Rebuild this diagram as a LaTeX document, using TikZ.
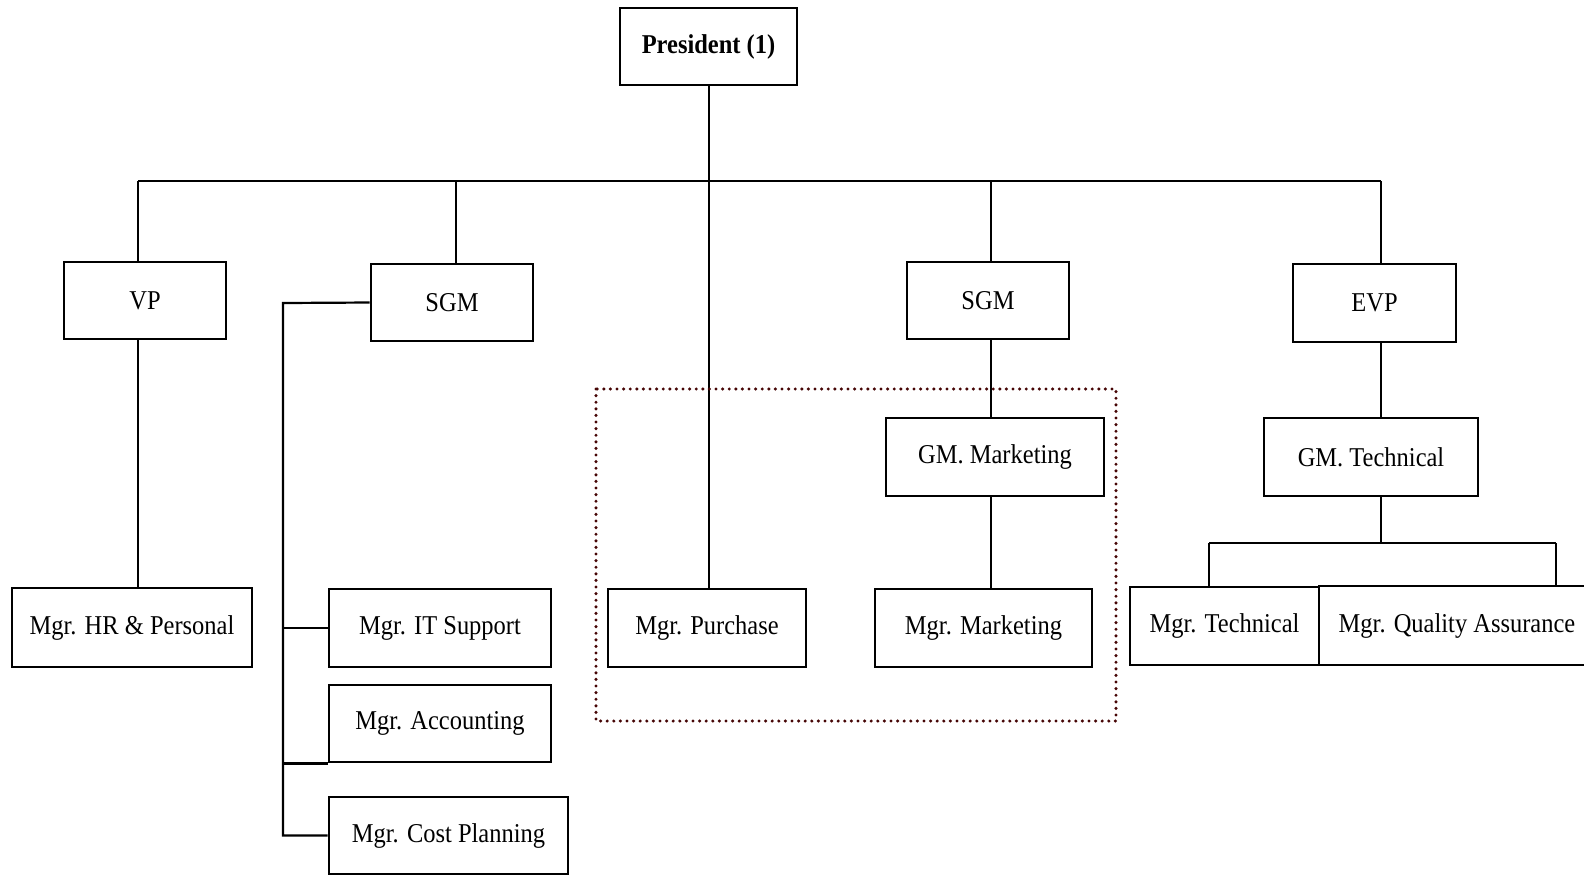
\documentclass[tikz,border=0pt]{standalone}
\usepackage{fontspec}
\setmainfont{Liberation Serif}[FakeStretch=0.9]
\definecolor{dotred}{RGB}{70,5,5}
\begin{document}
\begin{tikzpicture}[x=0.5pt,y=-0.5pt,
  box/.style={draw, line width=1.4pt, inner sep=0pt, font=\fontsize{13.6}{15}\selectfont},
  link/.style={line width=1.1pt},
  dotbox/.style={draw=dotred, line width=1.7pt, line cap=round, dash pattern=on 0pt off 3.3pt}]
\clip (0,0) rectangle (1584,875);

% top level
\node[box, minimum width=88.5pt, minimum height=38.5pt, font=\fontsize{13.6}{15}\selectfont\bfseries] (pres) at (708.5,46.5) {President (1)};

% second level
\node[box, minimum width=81pt, minimum height=38.5pt] (vp) at (145,300.5) {VP};
\node[box, minimum width=81pt, minimum height=38.5pt] (sgmA) at (452,302.5) {SGM};
\node[box, minimum width=81pt, minimum height=38.5pt] (sgmB) at (988,300.5) {SGM};
\node[box, minimum width=81.5pt, minimum height=39pt] (evp) at (1374.5,303) {EVP};

% general managers
\node[box, minimum width=109pt, minimum height=39pt] (gmm) at (995,457) {GM. Marketing};
\node[box, minimum width=107pt, minimum height=39pt] (gmt) at (1371,457) {GM. Technical};

% managers
\node[box, minimum width=120pt, minimum height=39.5pt] (hr) at (132,627.5) {Mgr. HR \& Personal};
\node[box, minimum width=111pt, minimum height=39pt] (it) at (440,628) {Mgr. IT Support};
\node[box, minimum width=111pt, minimum height=38.5pt] (acc) at (440,723.5) {Mgr. Accounting};
\node[box, minimum width=119.5pt, minimum height=38.5pt] (cp) at (448.5,835.5) {Mgr. Cost Planning};
\node[box, minimum width=99pt, minimum height=39pt] (pur) at (707,628) {Mgr. Purchase};
\node[box, minimum width=108.5pt, minimum height=39pt] (mm) at (983.5,628) {Mgr. Marketing};
\node[box, minimum width=94.5pt, minimum height=39pt] (mt) at (1224.5,626) {Mgr. Technical};
\node[box, minimum width=138pt, minimum height=39.5pt] (qa) at (1457,625.5) {Mgr. Quality Assurance};

% main bus
\coordinate (busL) at (138,181);
\coordinate (busR) at (1381,181);
\coordinate (dA) at (456,181);
\coordinate (dB) at (991,181);
\coordinate (dP) at (709,181);
\draw[link] (busL) -- (busR);
\draw[link] (dP |- pres.south) -- (dP |- pur.north);

% VP branch
\draw[link] (busL) -- (busL |- vp.north);
\draw[link] (busL |- vp.south) -- (busL |- hr.north);

% first SGM branch
\coordinate (sv) at (283,303);
\draw[link] (dA) -- (dA |- sgmA.north);
\draw[link] (sgmA.west) -- (sv) -- (sv |- cp.west) -- (cp.west);
\draw[link] (sv |- it.west) -- (it.west);
\draw[link] (sv |- acc.south west) -- (acc.south west);

% second SGM branch
\draw[link] (dB) -- (dB |- sgmB.north);
\draw[link] (dB |- sgmB.south) -- (dB |- gmm.north);
\draw[link] (dB |- gmm.south) -- (dB |- mm.north);

% EVP branch
\coordinate (tL) at (1209,543);
\coordinate (tR) at (1556,543);
\draw[link] (busR) -- (busR |- evp.north);
\draw[link] (busR |- evp.south) -- (busR |- gmt.north);
\draw[link] (busR |- gmt.south) -- (busR |- tL);
\draw[link] (tL) -- (tR);
\draw[link] (tL) -- (tL |- mt.north);
\draw[link] (tR) -- (tR |- qa.north);

% marketing and purchase group
\draw[dotbox] (596,389) rectangle (1116,721);
\end{tikzpicture}
\end{document}
